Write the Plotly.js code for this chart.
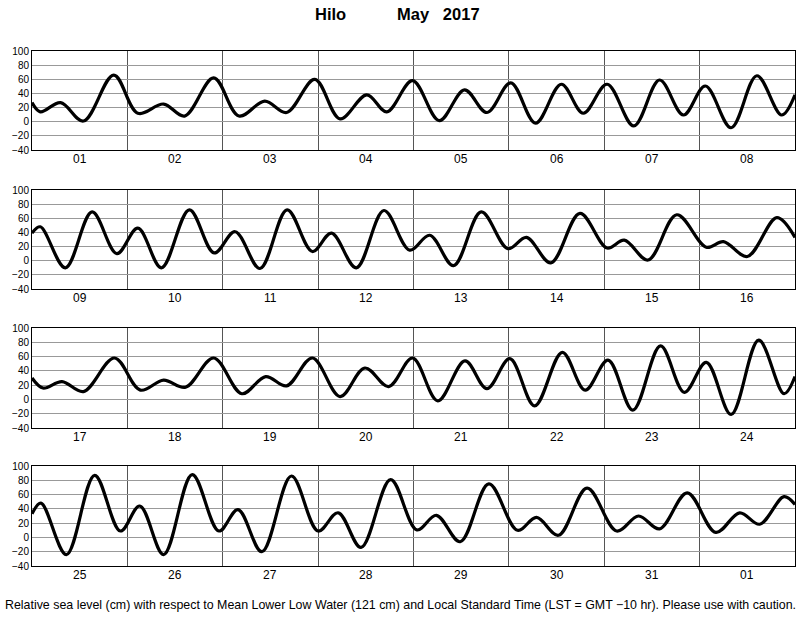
<!DOCTYPE html>
<html><head><meta charset="utf-8">
<script src="https://cdn.plot.ly/plotly-3.0.1.min.js"></script>
<style>body{margin:0;background:#fff}#chart{width:800px;height:618px}</style>
</head><body><div id="chart"></div>
<script>
// Times of high/low water, in days from the start of each 8-day panel, and heights (cm)
const t1 = [0, 0.087, 0.30, 0.54, 0.857, 1.11, 1.38, 1.60, 1.905, 2.17, 2.44, 2.67, 2.965, 3.23, 3.51, 3.72, 3.99, 4.27, 4.535, 4.77, 5.02, 5.28, 5.55, 5.78, 6.03, 6.31, 6.58, 6.83, 7.06, 7.33, 7.60, 7.86, 8.0];
const h1 = [27, 14, 27, 1, 66, 12, 25, 8, 62, 8, 29, 13, 60, 4, 38, 14, 58, 1.5, 45, 13, 55, -2, 53, 12, 53, -6, 59, 9.5, 50.5, -8.5, 65, 9.5, 38];
const t2 = [0, 0.087, 0.35, 0.63, 0.89, 1.11, 1.357, 1.65, 1.91, 2.13, 2.39, 2.675, 2.94, 3.14, 3.40, 3.69, 3.96, 4.17, 4.42, 4.71, 4.99, 5.185, 5.44, 5.745, 6.03, 6.21, 6.46, 6.76, 7.07, 7.25, 7.50, 7.81, 8.0];
const h2 = [39, 48, -10, 69, 10, 46, -10, 72, 11, 41, -11, 72, 13, 39, -10, 71, 15, 36, -7, 69, 17, 33, -3, 67, 18, 29, 1, 65, 19, 27, 6, 61, 33];
const t3 = [0, 0.115, 0.315, 0.54, 0.864, 1.136, 1.38, 1.61, 1.905, 2.20, 2.45, 2.67, 2.94, 3.23, 3.49, 3.74, 3.99, 4.255, 4.54, 4.77, 5.01, 5.27, 5.56, 5.80, 6.04, 6.30, 6.59, 6.84, 7.07, 7.33, 7.62, 7.885, 8.0];
const h3 = [30, 16, 25, 11, 58, 13, 27, 17, 58, 8, 32, 19, 58, 4, 44, 18, 58, -2, 54, 15, 57, -9, 66, 13, 55, -15, 75, 10, 52, -21, 83, 8, 32];
const t4 = [0, 0.094, 0.36, 0.657, 0.927, 1.13, 1.38, 1.68, 1.96, 2.16, 2.41, 2.72, 3.0, 3.21, 3.45, 3.76, 4.035, 4.24, 4.49, 4.79, 5.09, 5.29, 5.52, 5.82, 6.13, 6.36, 6.58, 6.87, 7.17, 7.42, 7.63, 7.885, 8.0];
const h4 = [33, 48, -24, 87, 9, 44, -24, 88, 9, 39, -20, 86, 9, 34.5, -14, 81, 10.5, 31, -6, 75, 10, 28, 3, 69, 9, 30, 12, 62.5, 7, 34.5, 18.5, 57, 46];
const days1 = ['01','02','03','04','05','06','07','08'];
const days2 = ['09','10','11','12','13','14','15','16'];
const days3 = ['17','18','19','20','21','22','23','24'];
const days4 = ['25','26','27','28','29','30','31','01'];
const titleStation = 'Hilo';
const titleMonth = 'May\u00A0\u00A0\u00A02017';
const footer = 'Relative sea level (cm) with respect to Mean Lower Low Water (121 cm) and Local Standard Time (LST = GMT \u221210 hr). Please use with caution.';

const panels = [[t1,h1,days1],[t2,h2,days2],[t3,h3,days3],[t4,h4,days4]];
const W = 800, H = 618;
const xDom = [32/W, 795/W];
const pix = [[51,150],[190,289],[328,428],[466,566]];
const FONT = 'Liberation Sans, Arial, Helvetica, sans-serif';

const data = [];
const layout = {
  width: W, height: H, margin: {l:0,r:0,t:0,b:0},
  paper_bgcolor:'#fff', plot_bgcolor:'#fff', showlegend:false,
  font:{family:FONT, color:'#000'},
  annotations: []
};
panels.forEach((p, i) => {
  const n = i === 0 ? '' : String(i+1);
  const nt = String(i+5);
  data.push({x:p[0], y:p[1], type:'scatter', mode:'lines', xaxis:'x'+n, yaxis:'y'+n,
    line:{color:'#000', width:3.2, shape:'spline', smoothing:1}, hoverinfo:'skip'});
  layout['xaxis'+n] = {
    domain: xDom, anchor:'y'+n, range:[0,8], tickmode:'linear', tick0:0, dtick:1,
    showgrid:true, gridcolor:'#555', gridwidth:1, zeroline:false,
    showticklabels:false, ticks:'',
    showline:true, mirror:true, linecolor:'#000', linewidth:1,
    fixedrange:true
  };
  // overlay axis carrying the 2-hour tick marks
  layout['xaxis'+nt] = {
    domain: xDom, anchor:'y'+n, overlaying:'x'+n, side:'bottom', range:[0,8],
    tickmode:'linear', tick0:0, dtick:1/12, ticks:'inside', ticklen:4, tickcolor:'#000', tickwidth:1,
    showgrid:false, zeroline:false, showticklabels:false, showline:false, fixedrange:true
  };
  layout['yaxis'+n] = {
    domain:[1-pix[i][1]/H, 1-pix[i][0]/H], anchor:'x'+n, range:[-40,100], tick0:0, dtick:20,
    showgrid:true, gridcolor:'#999', gridwidth:1, zeroline:false,
    showline:true, mirror:true, linecolor:'#000', linewidth:1, ticks:'',
    tickfont:{size:10, family:FONT}, fixedrange:true
  };
  p[2].forEach((d, j) => {
    layout.annotations.push({xref:'x'+n, yref:'y'+n+' domain', x:j+0.5, y:0, yanchor:'middle', yshift:-9,
      text:d, showarrow:false, font:{size:12, family:FONT}});
  });
});
layout.annotations.push({xref:'paper', yref:'paper', x:313/W, y:1-14/H, xanchor:'left', yanchor:'middle',
  text:'<b>'+titleStation+'</b>', showarrow:false, font:{size:16.5, family:FONT}});
layout.annotations.push({xref:'paper', yref:'paper', x:395/W, y:1-14/H, xanchor:'left', yanchor:'middle',
  text:'<b>'+titleMonth+'</b>', showarrow:false, font:{size:16.5, family:FONT}});
layout.annotations.push({xref:'paper', yref:'paper', x:400/W, y:1-605/H, xanchor:'center', yanchor:'middle',
  text:footer, showarrow:false, font:{size:12.4, family:FONT}});

Plotly.newPlot('chart', data, layout, {staticPlot:true, displayModeBar:false});
</script>
</body></html>
